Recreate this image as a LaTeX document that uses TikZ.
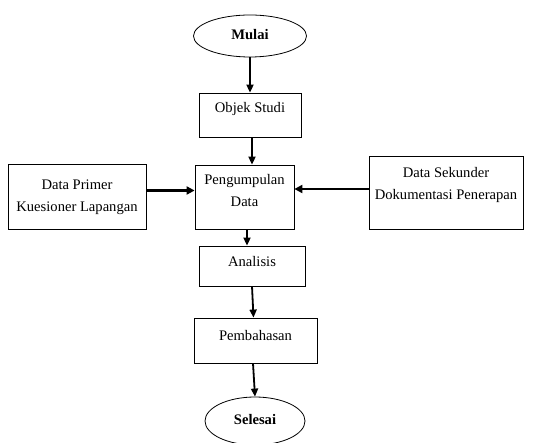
\documentclass[tikz,border=0pt]{standalone}
\usepackage{fontspec}
\setmainfont{Liberation Serif}
\usetikzlibrary{shapes.geometric,arrows.meta}

\tikzset{
  kotak/.style={draw, line width=0.8pt, inner sep=0pt, align=center,
    font=\fontsize{14.6}{22}\selectfont},
  oval/.style={draw, ellipse, line width=0.8pt, inner sep=0pt,
    font=\bfseries\fontsize{14.6}{22}\selectfont},
  panah/.style={-{Triangle[length=8pt,width=7pt]}, line width=1.8pt},
  panahtebal/.style={-{Triangle[length=8pt,width=8pt]}, line width=2.6pt},
}

\begin{document}
\begin{tikzpicture}[x=1pt,y=-1pt]
  \useasboundingbox (0,0) rectangle (534,443);

  % alur utama
  \node[oval, minimum width=113pt, minimum height=42pt, text depth=4pt] (mulai) at (250,36) {Mulai};
  \node[kotak, minimum width=102pt, text height=20pt, text depth=24pt] (objek) at (250,115) {Objek Studi};
  \node[kotak, minimum width=99pt, text height=42pt, text depth=22pt] (kumpul) at (244.5,197) {Pengumpulan\\Data};
  \node[kotak, minimum width=106pt, text height=20.7pt, text depth=19.3pt] (analisis) at (252,266) {Analisis};
  \node[kotak, minimum width=123pt, text height=22pt, text depth=23pt] (bahas) at (255.5,340.5) {Pembahasan};
  \node[oval, minimum width=100pt, minimum height=48pt, text depth=3pt] (selesai) at (255,421) {Selesai};

  % sumber data
  \node[kotak, minimum width=138pt, text height=47.7pt, text depth=17.3pt] (primer) at (77,196.5) {Data Primer\\Kuesioner Lapangan};
  \node[kotak, minimum width=154pt, text height=44pt, text depth=29pt] (sekunder) at (446,192.5) {Data Sekunder\\Dokumentasi Penerapan};

  \draw[panah] (mulai.south) -- (objek.north);
  \draw[panah] ([xshift=2pt]objek.south) -- ([xshift=2pt]objek.south |- kumpul.north);
  \draw[panah] ([xshift=2.5pt]kumpul.south) -- ([xshift=2.5pt]kumpul.south |- analisis.north);
  \draw[panah] (analisis.south) -- ([xshift=-2pt]bahas.north);
  \draw[panah] ([xshift=-2.5pt]bahas.south) -- (selesai.north);

  \draw[panahtebal] ([yshift=6pt]primer.east) -- ([yshift=6pt]primer.east -| kumpul.west);
  \draw[panahtebal] ([yshift=3.5pt]sekunder.west) -- ([yshift=3.5pt]sekunder.west -| kumpul.east);
\end{tikzpicture}
\end{document}
